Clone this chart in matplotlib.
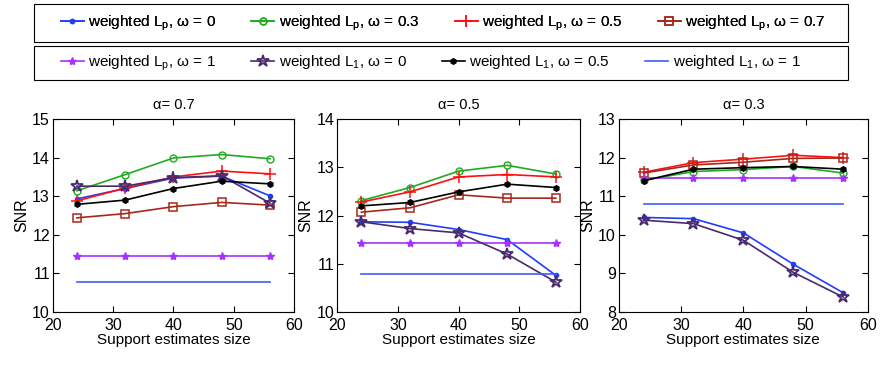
import numpy as np
import matplotlib.pyplot as plt
from matplotlib.lines import Line2D
from matplotlib.patches import Rectangle

plt.rcParams['font.family'] = ['Liberation Sans', 'DejaVu Sans']
plt.rcParams['mathtext.fontset'] = 'custom'
plt.rcParams['mathtext.rm'] = 'Liberation Sans'

sizes = [24, 32, 40, 48, 56]
alphas = ['0.7', '0.5', '0.3']

# SNR values per panel (alpha = 0.7, 0.5, 0.3)
lp_w0 = [[12.93, 13.2, 13.47, 13.52, 13.01],
         [11.87, 11.86, 11.71, 11.5, 10.76],
         [10.45, 10.42, 10.05, 9.24, 8.5]]
lp_w03 = [[13.14, 13.56, 13.99, 14.08, 13.97],
          [12.31, 12.58, 12.92, 13.04, 12.86],
          [11.41, 11.64, 11.69, 11.77, 11.6]]
lp_w05 = [[12.88, 13.21, 13.5, 13.65, 13.58],
          [12.28, 12.49, 12.8, 12.85, 12.8],
          [11.62, 11.87, 11.96, 12.06, 12.0]]
lp_w07 = [[12.44, 12.55, 12.73, 12.84, 12.77],
          [12.07, 12.16, 12.43, 12.36, 12.36],
          [11.6, 11.81, 11.88, 11.98, 11.99]]
lp_w1 = [[11.46] * 5, [11.44] * 5, [11.46] * 5]
l1_w0 = [[13.26, 13.26, 13.48, 13.53, 12.82],
         [11.87, 11.73, 11.64, 11.2, 10.62],
         [10.38, 10.29, 9.86, 9.03, 8.39]]
l1_w05 = [[12.79, 12.9, 13.2, 13.39, 13.32],
          [12.2, 12.27, 12.49, 12.65, 12.58],
          [11.4, 11.7, 11.74, 11.77, 11.7]]
l1_w1 = [[10.79] * 5, [10.79] * 5, [10.8] * 5]

ylims = [(10, 15), (10, 14), (8, 13)]

labels = ['weighted L$_\\mathrm{p}$, ω = 0', 'weighted L$_\\mathrm{p}$, ω = 0.3',
          'weighted L$_\\mathrm{p}$, ω = 0.5', 'weighted L$_\\mathrm{p}$, ω = 0.7',
          'weighted L$_\\mathrm{p}$, ω = 1', 'weighted L$_\\mathrm{1}$, ω = 0',
          'weighted L$_\\mathrm{1}$, ω = 0.5', 'weighted L$_\\mathrm{1}$, ω = 1']
series = [lp_w0, lp_w03, lp_w05, lp_w07, lp_w1, l1_w0, l1_w05, l1_w1]
styles = [dict(color='#1f3dff', marker='o', ms=3),
          dict(color='#1faa1f', marker='o', ms=5, mfc='none'),
          dict(color='#ff1010', marker='+', ms=8, mew=1.1),
          dict(color='#a8281a', marker='s', ms=6, mfc='none', mew=1.1),
          dict(color='#a633ff', marker='*', ms=6),
          dict(color='#4a2a6e', marker='*', ms=9, mfc='none', mew=1.3),
          dict(color='black', marker='h', ms=4),
          dict(color='#3d5cff', marker='none')]

fig = plt.figure(figsize=(8.94, 3.65), dpi=100)
lefts = [0.059, 0.377, 0.692]
widths = [0.270, 0.272, 0.279]

for i in range(3):
    ax = fig.add_axes([lefts[i], 0.145, widths[i], 0.529])
    for s, st in zip(series, styles):
        ax.plot(sizes, s[i], lw=1.2, **st)
    ax.set_xlim(20, 60)
    ax.set_ylim(*ylims[i])
    ax.set_xticks([20, 30, 40, 50, 60])
    ax.tick_params(direction='in', top=True, right=True, labelsize=11.5, length=4, pad=2)
    ax.tick_params(axis='x', pad=4)
    ax.set_xlabel('Support estimates size', fontsize=11, labelpad=0)
    ax.set_ylabel('SNR', fontsize=11.5, labelpad=2)
    ax.set_title('α= ' + alphas[i], fontsize=10.5, pad=7)

# legend frames
for y0, h in [(0.885, 0.104), (0.781, 0.093)]:
    fig.add_artist(Rectangle((0.038, y0), 0.91, h, transform=fig.transFigure,
                             fill=False, edgecolor='black', lw=0.8))

handles = [Line2D([], [], lw=1.2, **st) for st in styles]
leg_kw = dict(loc='center left', ncol=4, fontsize=11, frameon=False,
              handlelength=1.5, handletextpad=0.3, columnspacing=2.3,
              borderaxespad=0, borderpad=0)
leg1 = fig.legend(handles[:4], labels[:4], bbox_to_anchor=(0.068, 0.937), **leg_kw)
fig.add_artist(leg1)
leg2 = fig.legend(handles[4:], labels[4:], bbox_to_anchor=(0.068, 0.828), **leg_kw)

fig.savefig('out.png', dpi=100)
